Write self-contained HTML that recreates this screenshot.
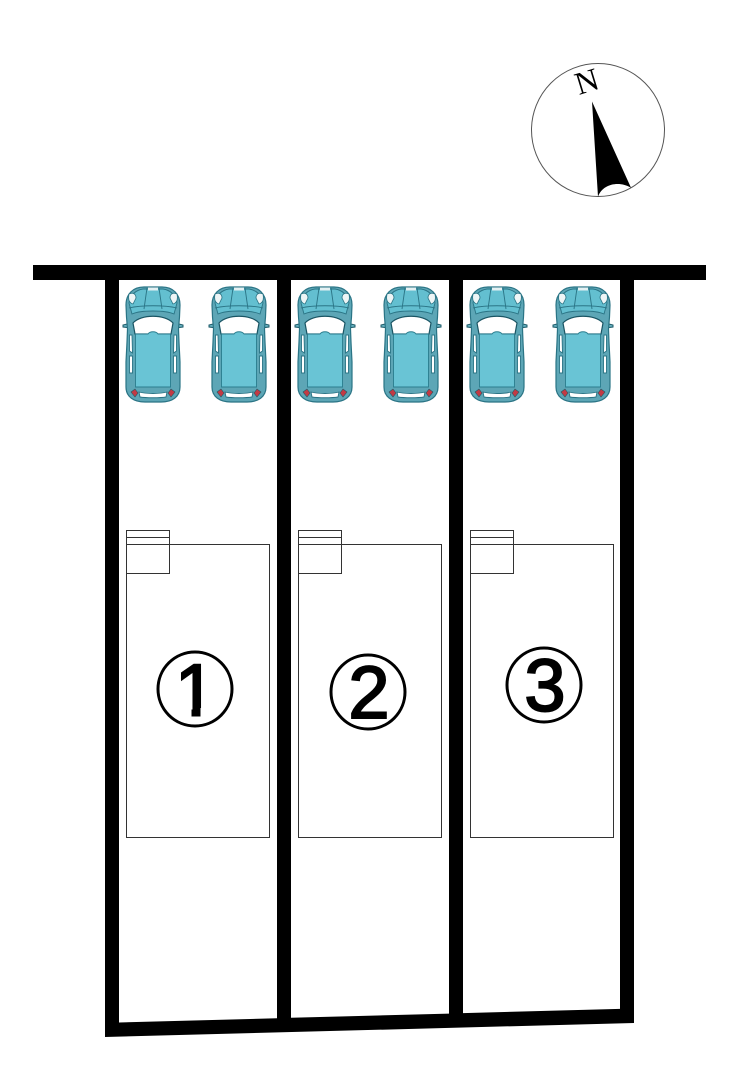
<!DOCTYPE html>
<html><head><meta charset="utf-8"><style>html,body{margin:0;padding:0;background:#fff;width:740px;height:1080px;overflow:hidden}svg{display:block}</style></head><body>
<svg width="740" height="1080" viewBox="0 0 740 1080" xmlns="http://www.w3.org/2000/svg">
<defs>
<g id="car">
<path d="M-22,36 L-30,38 L-30,40 L-22,41 Z M22,36 L30,38 L30,40 L22,41 Z" fill="#69b3c2" stroke="#1d5a68" stroke-width="1"/>
<path d="M-9,0 C-20,0 -27,7 -27,18 L-26.5,30 L-25.5,42 L-26,55 L-27,75 L-27,100 C-27,110 -19,115 -8,115 L8,115 C19,115 27,110 27,100 L27,75 L26,55 L25.5,42 L26.5,30 L27,18 C27,7 20,0 9,0 Z" fill="#5da6b6" stroke="#2a7485" stroke-width="1.2"/>
<path d="M-10,2 C-17,3 -23,8 -24,16 L-21,27 C-12,23 12,23 21,27 L24,16 C23,8 17,3 10,2 Z" fill="#63bfd0" stroke="#2a7485" stroke-width=".9"/>
<path d="M-6,1 L-9,22 M6,1 L9,22 M-24,21 C-12,18 12,18 24,21" fill="none" stroke="#2a7485" stroke-width=".9"/>
<rect x="-5" y="0.5" width="10" height="3" fill="#e4f1f3"/>
<path d="M-24,7 C-20,5 -17,7 -17,11 L-20,17 C-24,16 -25,12 -24,7 Z M24,7 C20,5 17,7 17,11 L20,17 C24,16 25,12 24,7 Z" fill="#eef5f6" stroke="#2a7485" stroke-width=".8"/>
<path d="M-18,47 L-20,36 C-12,27 12,27 20,36 L18,47 Z" fill="#fff" stroke="#1a5564" stroke-width="1.2"/>
<path d="M-17.5,47 L-5,47 C-3,44 3,44 5,47 L17.5,47 L17.5,100 L-17.5,100 Z" fill="#69c4d5" stroke="#2a7d8e" stroke-width=".9"/>
<path d="M-23.5,48 L-21,48 L-20.5,66 L-23.5,64 Z M23.5,48 L21,48 L20.5,66 L23.5,64 Z M-23.5,69 L-20.5,69 L-20.5,86 L-23.5,86 Z M23.5,69 L20.5,69 L20.5,86 L23.5,86 Z" fill="#fff" stroke="#2a7485" stroke-width=".9"/>
<path d="M-14,105 C-7,107 7,107 14,105 L13,110 C7,111 -7,111 -13,110 Z" fill="#fff" stroke="#2a7485" stroke-width=".9"/>
<path d="M-22,105 L-18,102 L-15,106 L-18,110 Z M22,105 L18,102 L15,106 L18,110 Z" fill="#c23a44" stroke="#1d5a68" stroke-width=".6"/>
</g>
</defs>
<circle cx="598" cy="130" r="66.5" fill="#fff" stroke="#555" stroke-width="1"/>
<path d="M592,101.5 L631,187.7 C620,181 603,183 598,196.7 Z" fill="#000"/>
<text x="587" y="92" font-family="'Liberation Serif',serif" font-size="32" text-anchor="middle" transform="rotate(-17 587 82)" fill="#000">N</text>
<path fill="#000" fill-rule="evenodd" d="M33,265 H706 V280 H634 V1023 L105,1037 V280 H33 Z M119,280 V1022.5 L277,1018.3 V280 Z M291,280 V1017.8 L449,1013.6 V280 Z M463,280 V1013.1 L620,1008.9 V280 Z"/>
<use href="#car" transform="translate(153,287)"/>
<use href="#car" transform="translate(239,287)"/>
<use href="#car" transform="translate(325,287)"/>
<use href="#car" transform="translate(411,287)"/>
<use href="#car" transform="translate(497,287)"/>
<use href="#car" transform="translate(583,287)"/>
<g fill="none" stroke="#333" stroke-width="1">
<rect x="126.5" y="544.5" width="143" height="293"/>
<rect x="126.5" y="530.5" width="43" height="43"/>
<path d="M126,537.5H170"/>
<rect x="298.5" y="544.5" width="143" height="293"/>
<rect x="298.5" y="530.5" width="43" height="43"/>
<path d="M298,537.5H342"/>
<rect x="470.5" y="544.5" width="143" height="293"/>
<rect x="470.5" y="530.5" width="43" height="43"/>
<path d="M470,537.5H514"/>
</g>
<g font-family="'Liberation Sans',sans-serif" font-size="74" text-anchor="middle" fill="#000" stroke="#000" stroke-width="2">
<text x="195.5" y="716">1</text>
<text x="369" y="718">2</text>
<text x="545" y="711">3</text>
</g>
<g fill="#fff">
<rect x="170" y="708" width="21.5" height="12"/>
<rect x="200.5" y="708" width="20" height="12"/>
<rect x="190" y="716.5" width="12" height="4"/>
</g>
<g fill="none" stroke="#000" stroke-width="3">
<circle cx="195" cy="689" r="37"/>
<circle cx="368" cy="692" r="37"/>
<circle cx="544" cy="685" r="37"/>
</g>
</svg>
</body></html>
